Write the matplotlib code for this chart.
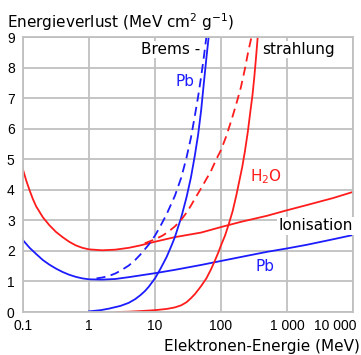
import matplotlib
matplotlib.use("Agg")
import matplotlib.pyplot as plt
from matplotlib.transforms import ScaledTranslation

plt.rcParams['font.family'] = ['DejaVu Sans']
plt.rcParams['mathtext.default'] = 'regular'

# Ionisation, H2O
ion_h2o_e = [0.1, 0.112, 0.126, 0.141, 0.158, 0.2, 0.251, 0.316, 0.398, 0.5, 0.631, 0.794, 1, 1.58, 2.5,
             4, 6, 10, 20, 50, 100, 200, 500, 1000, 2000, 5000, 10000]
ion_h2o_y = [4.66, 4.3, 3.98, 3.7, 3.46, 3.1, 2.84, 2.62, 2.45, 2.3, 2.18, 2.1, 2.05, 2.02, 2.04,
             2.1, 2.18, 2.3, 2.45, 2.6, 2.78, 2.95, 3.15, 3.33, 3.5, 3.73, 3.93]

# Ionisation, Pb
ion_pb_e = [0.1, 0.126, 0.158, 0.2, 0.251, 0.316, 0.398, 0.5, 0.631, 0.794, 1, 1.58, 2.5,
            4, 10, 20, 50, 100, 200, 500, 1000, 2000, 5000, 10000]
ion_pb_y = [2.35, 2.1, 1.9, 1.7, 1.55, 1.42, 1.31, 1.22, 1.15, 1.1, 1.07, 1.06, 1.08,
            1.14, 1.27, 1.38, 1.54, 1.67, 1.8, 1.97, 2.08, 2.2, 2.38, 2.52]

# Bremsstrahlung, Pb
brems_pb_e = [1, 1.5, 2, 3, 4, 5, 6, 7, 8, 10, 12, 15, 18, 20, 25, 30, 35, 40, 45, 50, 55, 60, 65]
brems_pb_y = [0.02, 0.06, 0.11, 0.2, 0.3, 0.42, 0.55, 0.68, 0.82, 1.1, 1.4, 1.8, 2.2, 2.45, 3.1, 3.75,
              4.4, 5.1, 5.8, 6.6, 7.5, 8.3, 9.0]

# total, Pb (dashed)
tot_pb_e = [1.3, 1.6, 2, 2.5, 3, 4, 5, 6, 7, 8, 10, 12, 15, 20, 25, 30, 35, 40, 45, 50, 55, 60]
tot_pb_y = [1.1, 1.13, 1.18, 1.26, 1.35, 1.52, 1.7, 1.88, 2.05, 2.2, 2.5, 2.8, 3.2, 3.8, 4.4, 5.05,
            5.7, 6.4, 7.05, 7.7, 8.35, 9.0]

# Bremsstrahlung, H2O
brems_h2o_e = [2.6, 4, 6, 10, 15, 20, 25, 30, 35, 40, 45, 50, 60, 70, 80, 90, 100, 115, 130, 150,
               170, 190, 210, 230, 255, 280, 300, 320, 340, 360]
brems_h2o_y = [0.0, 0.01, 0.03, 0.06, 0.1, 0.15, 0.22, 0.32, 0.45, 0.58, 0.72, 0.85, 1.1, 1.38, 1.66,
               1.92, 2.18, 2.5, 2.85, 3.3, 3.8, 4.3, 4.75, 5.25, 5.9, 6.6, 7.1, 7.7, 8.35, 9.0]

# total, H2O (dashed)
tot_h2o_e = [7, 10, 13, 16, 20, 25, 30, 35, 40, 50, 60, 70, 85, 100, 120, 145, 170, 200, 230, 260, 290]
tot_h2o_y = [2.25, 2.38, 2.5, 2.63, 2.8, 3.02, 3.25, 3.48, 3.7, 4.05, 4.35, 4.6, 5.0, 5.3, 5.75, 6.3,
             6.8, 7.35, 7.95, 8.55, 9.0]

xticks = [0.1, 1, 10, 100, 1000, 10000]
xticklabels = ["0.1", "1", "10", "100", "1 000", "10 000"]
yticks = list(range(0, 10))

red = "#ff1c1c"
blue = "#1c1cff"
lw = 1.3

fig = plt.figure(figsize=(3.61, 3.55), dpi=100)
ax = fig.add_axes([23 / 361, 43 / 355, 330 / 361, 275 / 355])

ax.plot(ion_h2o_e, ion_h2o_y, color=red, lw=lw)
ax.plot(ion_pb_e, ion_pb_y, color=blue, lw=lw)
ax.plot(brems_pb_e, brems_pb_y, color=blue, lw=lw)
ax.plot(tot_pb_e, tot_pb_y, color=blue, lw=lw, dashes=(5, 3))
ax.plot(brems_h2o_e, brems_h2o_y, color=red, lw=lw)
ax.plot(tot_h2o_e, tot_h2o_y, color=red, lw=lw, dashes=(5, 3))

ax.set_xscale("log")
ax.set_xlim(0.1, 10000)
ax.set_ylim(0, 9)
ax.set_xticks(xticks)
ax.set_xticklabels(xticklabels, family="Liberation Sans", fontsize=10)
ax.minorticks_off()
ax.set_yticks(yticks)
ax.set_yticklabels([str(v) for v in yticks], family="Liberation Sans", fontsize=10)
ax.tick_params(axis="x", length=0, pad=5)
ax.tick_params(axis="y", length=0, pad=6)
last = ax.get_xticklabels()[-1]
last.set_horizontalalignment("right")
last.set_transform(last.get_transform() + ScaledTranslation(4 / 100, 0, fig.dpi_scale_trans))
ax.grid(True, color="#c0c0c0", lw=1.3)
ax.set_axisbelow(True)
for s in ax.spines.values():
    s.set_color("#c0c0c0")
    s.set_linewidth(1.3)

box = dict(facecolor="white", edgecolor="none", pad=1)
fs = 11
ax.text(17.5, 8.59, "Brems -", ha="center", va="center", fontsize=fs, bbox=box)
ax.text(1480, 8.59, "strahlung", ha="center", va="center", fontsize=fs, bbox=box)
ax.text(28.7, 7.54, "Pb", ha="center", va="center", fontsize=fs, color=blue, bbox=box)
ax.text(480, 4.43, "H$_2$O", ha="center", va="center", fontsize=fs, color=red)
ax.text(2690, 2.82, "Ionisation", ha="center", va="center", fontsize=fs, bbox=box)
ax.text(457, 1.48, "Pb", ha="center", va="center", fontsize=fs, color=blue)

fig.text(7 / 361, 1 - 22 / 355, "Energieverlust (MeV cm$^2$ g$^{-1}$)", ha="left", va="center", fontsize=fs)
fig.text(360 / 361, 1 - 347 / 355, "Elektronen-Energie (MeV)", ha="right", va="center", fontsize=fs)

fig.savefig("out.png", dpi=100)
